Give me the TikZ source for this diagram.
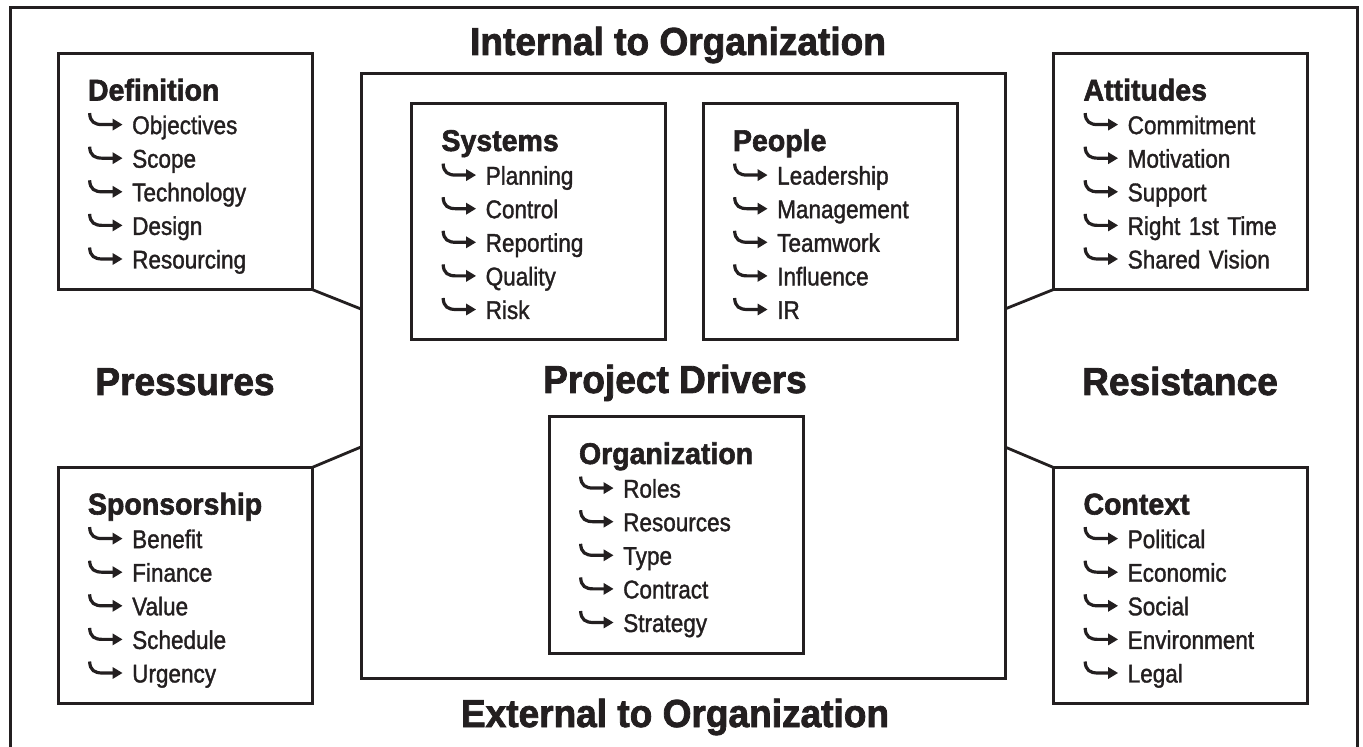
\documentclass[tikz,border=0pt]{standalone}
\usepackage{fontspec}
\setmainfont{Liberation Sans}
\newfontfamily\headfont[FakeStretch=0.95,FakeBold=2]{Liberation Sans}
\newfontfamily\itemfont[FakeStretch=0.88,FakeBold=1.4]{Liberation Sans}
\usepackage{tikz}
\usetikzlibrary{arrows.meta}
\usetikzlibrary{positioning}

\definecolor{ink}{HTML}{231F20}

\newcommand{\hk}{\tikz[x=0.5pt,y=0.5pt,baseline=0pt]\draw[ink,line width=1.6pt,-{Triangle[length=5pt,width=5.6pt]}] (0,21) .. controls (0.5,12) and (5,9.5) .. (13,9.5) -- (33,9.5);\hspace{4pt}}
\newcommand{\boxhead}[1]{{\headfont\bfseries\fontsize{15}{16.8}\selectfont #1}}

\tikzset{
	listbox/.style={draw=ink,line width=1.5pt,outer sep=0pt,minimum width=127pt,minimum height=118pt,
		text width=97pt,align=left,inner ysep=0pt,text height=23.5pt,text depth=94.5pt,text=ink,
		font=\itemfont\fontsize{12.8}{16.8}\selectfont},
	bighead/.style={anchor=base,text=ink,font=\headfont\bfseries\fontsize{19.5}{22}\selectfont},
	link/.style={draw=ink,line width=1.4pt}
}

\begin{document}
\begin{tikzpicture}[x=0.5pt,y=-0.5pt]
			\useasboundingbox (0,0) rectangle (1363,747);
			\draw[link,line width=1.5pt] (10,747) |- (1357,8) -- (1357,747);
			
			\node[draw=ink,line width=1.5pt,outer sep=0pt,minimum width=322pt,minimum height=302pt] (drivers) at (683,376) {};
			\node[bighead] (internal) at (678,55) {Internal to Organization};
			\node[bighead] (external) at (675,727) {External to Organization};
			\node[bighead] (pressures) at (185,395) {Pressures};
			\node[bighead] (resistance) at (1180,395) {Resistance};
			\node[bighead] (drvlabel) at (675,393) {Project Drivers};
			
			\node[listbox] (defn) at (185,171.5) {\boxhead{Definition}\\ \hk Objectives\\ \hk Scope\\ \hk Technology\\ \hk Design\\ \hk Resourcing};
			\node[listbox] (spons) at (185,585.5) {\boxhead{Sponsorship}\\ \hk Benefit\\ \hk Finance\\ \hk Value\\ \hk Schedule\\ \hk Urgency};
			\node[listbox] (attit) at (1180.5,171.5) {\boxhead{Attitudes}\\ \hk Commitment\\ \hk Motivation\\ \hk Support\\ \hk Right 1st Time\\ \hk Shared Vision};
			\node[listbox] (context) at (1180.5,585.5) {\boxhead{Context}\\ \hk Political\\ \hk Economic\\ \hk Social\\ \hk Environment\\ \hk Legal};
			\node[listbox] (systems) at (538.5,222) {\boxhead{Systems}\\ \hk Planning\\ \hk Control\\ \hk Reporting\\ \hk Quality\\ \hk Risk};
			\node[listbox] (people) at (830,222) {\boxhead{People}\\ \hk Leadership\\ \hk Management\\ \hk Teamwork\\ \hk Influence\\ \hk IR};
			\node[listbox] (org) at (676,535) {\boxhead{Organization}\\ \hk Roles\\ \hk Resources\\ \hk Type\\ \hk Contract\\ \hk Strategy};
			
			\draw[link] (defn.south east) -- ([yshift=33.5pt]drivers.west);
			\draw[link] (spons.north east) -- ([yshift=-35.5pt]drivers.west);
			\draw[link] (attit.south west) -- ([yshift=33.5pt]drivers.east);
			\draw[link] (context.north west) -- ([yshift=-35.5pt]drivers.east);
\end{tikzpicture}
\end{document}
